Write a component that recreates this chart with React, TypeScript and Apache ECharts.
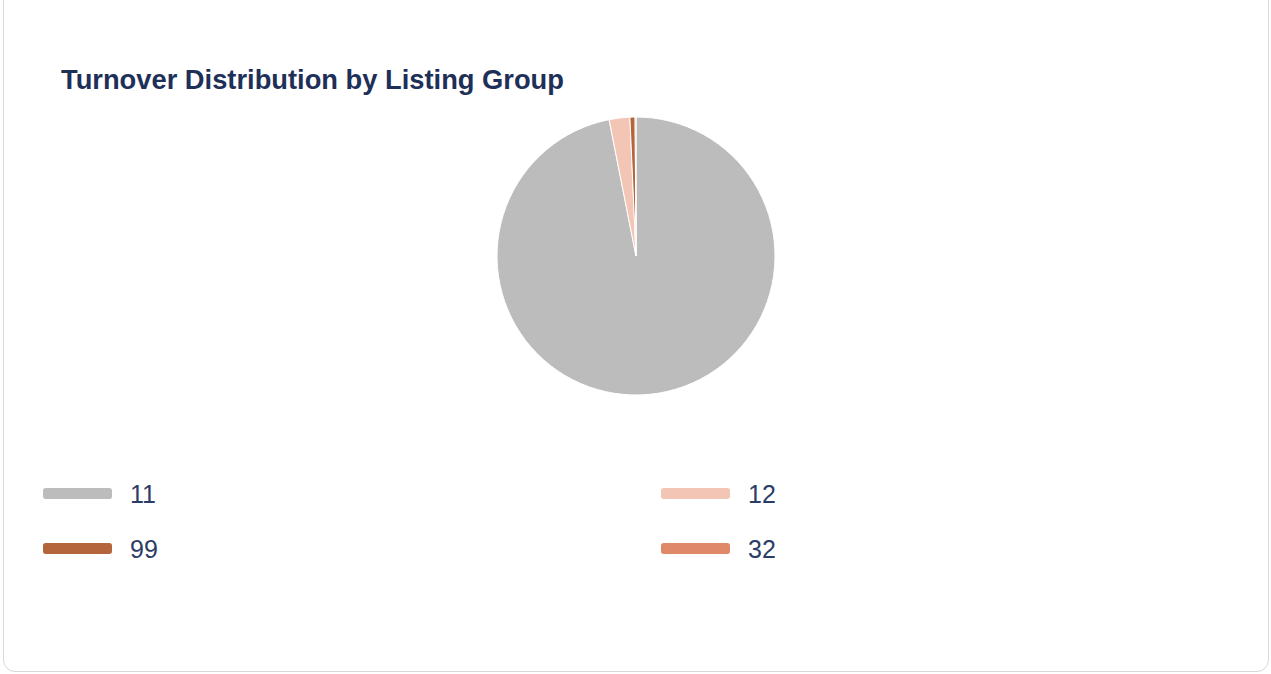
import React, { useEffect, useRef } from "react";
import * as echarts from "echarts";

const categories = ["11", "12", "99", "32"];
const values = [96.9, 2.4, 0.6, 0.1];
const colors = ["#bcbcbc", "#f3c5b5", "#b5653c", "#e0896a"];
const titleText = "Turnover Distribution by Listing Group";

export default function App() {
  const ref = useRef<HTMLDivElement>(null);
  useEffect(() => {
    if (!ref.current) return;
    const chart = echarts.init(ref.current, undefined, { renderer: "svg" });
    const legendCommon = {
      orient: "vertical" as const,
      icon: "roundRect",
      itemWidth: 69,
      itemHeight: 11,
      itemGap: 30,
      selectedMode: false,
      itemStyle: { borderWidth: 0 },
      textStyle: { color: "#2b3d66", fontSize: 25, fontFamily: "Liberation Sans, Arial, sans-serif", padding: [0, 0, 0, 13] },
    };
    chart.setOption({
      animation: false,
      title: {
        text: titleText,
        left: 56,
        top: 61,
        textStyle: { color: "#1e2f58", fontSize: 27.3, fontWeight: "bold", fontFamily: "Liberation Sans, Arial, sans-serif" },
      },
      legend: [
        { ...legendCommon, left: 38, top: 476, data: [categories[0], categories[2]] },
        { ...legendCommon, left: 656, top: 476, data: [categories[1], categories[3]] },
      ],
      series: [
        {
          type: "pie",
          center: [636, 256],
          radius: 139,
          startAngle: 90,
          clockwise: true,
          label: { show: false },
          labelLine: { show: false },
          itemStyle: { borderColor: "#ffffff", borderWidth: 1 },
          emphasis: { disabled: true },
          data: categories.map((c, i) => ({ name: c, value: values[i], itemStyle: { color: colors[i] } })),
        },
      ],
    });
    return () => chart.dispose();
  }, []);
  return (
    <div style={{ position: "fixed", left: 0, top: 0, width: 1271, height: 674, background: "#fff", overflow: "hidden" }}>
      <div
        style={{
          position: "absolute",
          left: 3,
          top: -12,
          width: 1266,
          height: 684,
          border: "1px solid #d5d9de",
          borderRadius: 12,
          boxSizing: "border-box",
        }}
      />
      <div ref={ref} style={{ position: "absolute", left: 0, top: 0, width: 1271, height: 674 }} />
    </div>
  );
}
